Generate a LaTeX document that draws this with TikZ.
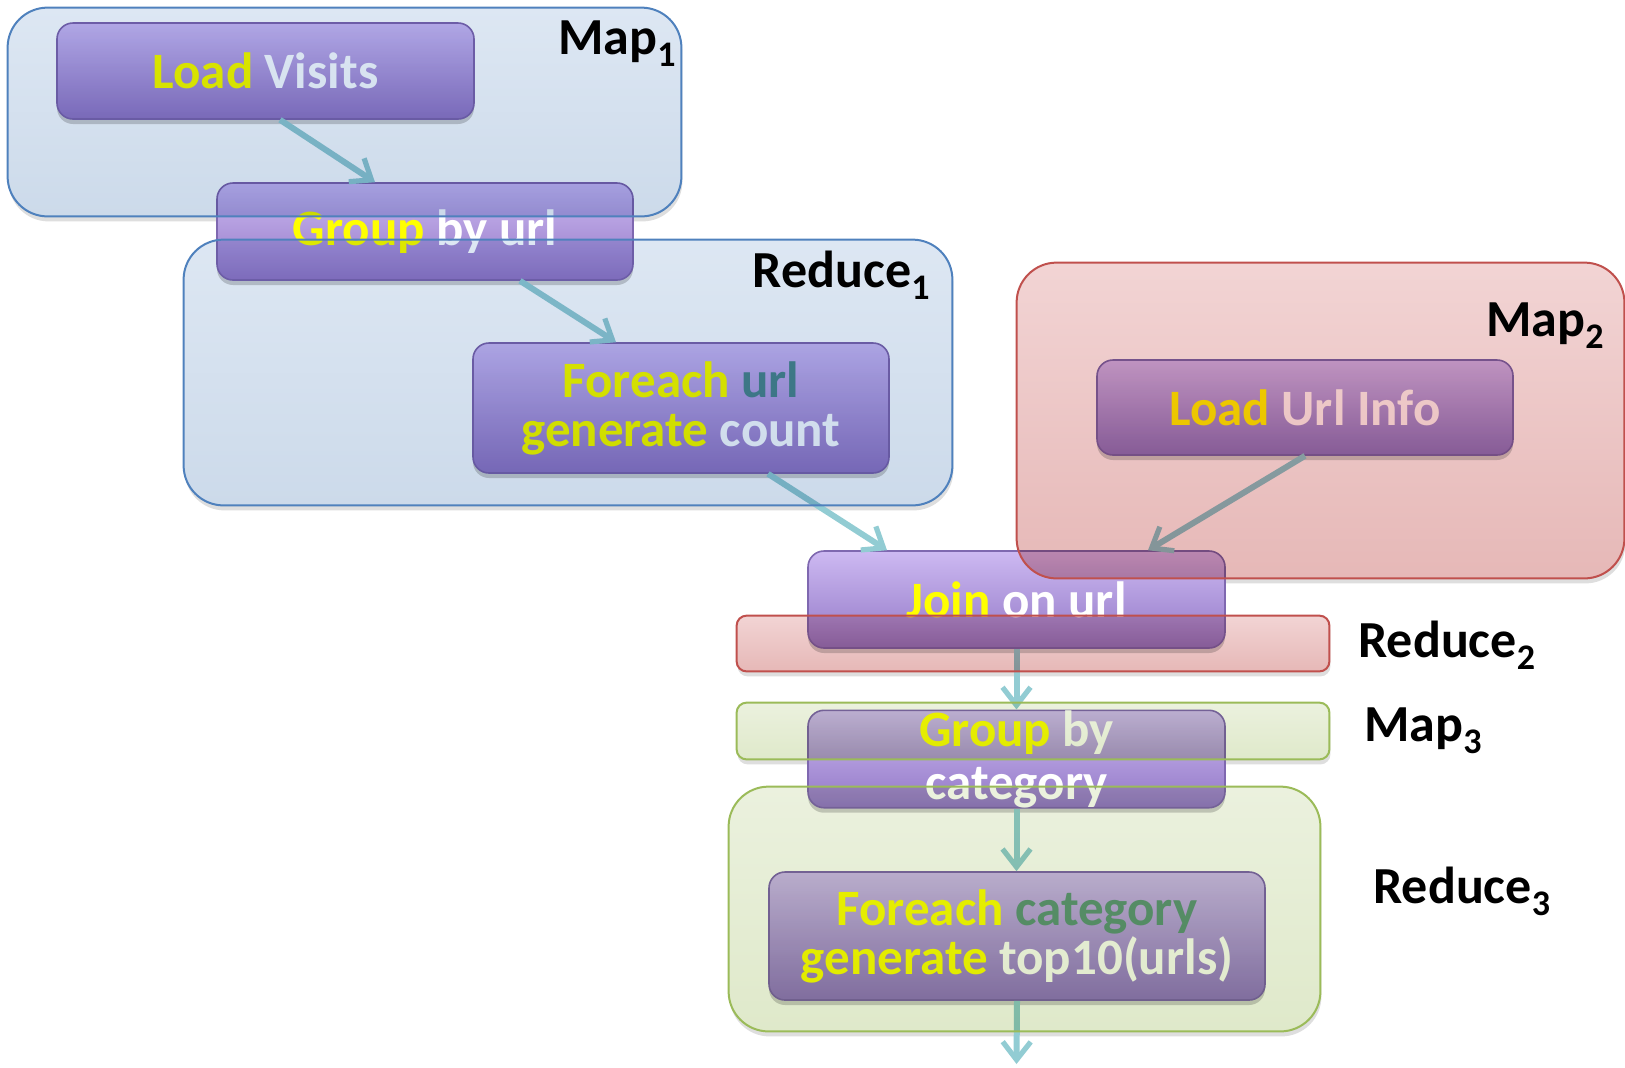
\documentclass[tikz,border=0pt]{standalone}
\usepackage{fontspec}
\setmainfont{Carlito}
\usetikzlibrary{arrows.meta,calc,shadows}

\definecolor{nodeTop}{HTML}{CDB9F2}
\definecolor{nodeBot}{HTML}{9278C6}
\definecolor{nodeLine}{HTML}{7F68B0}
\definecolor{blueTop}{HTML}{DDE7F3}
\definecolor{blueBot}{HTML}{CCDAEA}
\definecolor{blueLine}{HTML}{4F81BD}
\definecolor{pinkTop}{HTML}{F2D4D4}
\definecolor{pinkBot}{HTML}{E6B8B7}
\definecolor{pinkLine}{HTML}{C0504D}
\definecolor{greenTop}{HTML}{EBF1DE}
\definecolor{greenBot}{HTML}{DFE9CA}
\definecolor{greenLine}{HTML}{9BBB59}
\definecolor{flow}{HTML}{92CCD3}
\definecolor{kw}{HTML}{FFFF00}
\definecolor{urlc}{HTML}{4A8890}
\definecolor{catc}{HTML}{5F977A}

\newcommand\stagesub[1]{\raisebox{-6pt}{\fontsize{18}{18}\selectfont #1}}

\tikzset{
  proc/.style={rectangle, rounded corners=8pt, draw=nodeLine, line width=0.8pt,
    top color=nodeTop, bottom color=nodeBot, text=white, align=center,
    inner sep=0pt, font=\bfseries\fontsize{25.5}{24.5}\selectfont,
    drop shadow={shadow xshift=0pt, shadow yshift=-2.5pt, opacity=0.3, fill=black!60}},
  stage/.style={rectangle, inner sep=0pt},
  flowarrow/.style={draw=flow, line width=3pt,
    -{Straight Barb[length=9pt, width=14pt, line width=2.6pt]}},
  stagelabel/.style={inner sep=0pt, text=black, font=\bfseries\fontsize{26}{30}\selectfont},
}

\begin{document}
\begin{tikzpicture}[x=0.5pt, y=-0.5pt]
\useasboundingbox (0,0) rectangle (1625,1067);

% stage regions (placed first, painted later)
\node[stage, minimum width=336.5pt, minimum height=104pt]  (m1) at (344.5,112) {};
\node[stage, minimum width=384pt,   minimum height=132.5pt] (r1) at (568,372.5) {};
\node[stage, minimum width=303.5pt, minimum height=157.5pt] (m2) at (1320.5,420.5) {};
\node[stage, minimum width=296pt,   minimum height=27.5pt]  (r2) at (1033,643.5) {};
\node[stage, minimum width=296pt,   minimum height=28pt]    (m3) at (1033,731) {};
\node[stage, minimum width=295.5pt, minimum height=122pt]   (r3) at (1024.5,909) {};

% soft shadows under the stage regions, showing only past their edges
\foreach \s/\r in {m1/20pt, r1/20pt, m2/20pt, r2/5pt, m3/5pt, r3/20pt} {
  \fill[black!13, rounded corners=\r] ($(\s.south west)+(1,5)$) rectangle ($(\s.north east)+(1,5)$);
  \fill[white, rounded corners=\r] (\s.south west) rectangle (\s.north east);
}

% processing steps
\node[proc, minimum width=208.5pt, minimum height=48pt] (lv) at (265.5,71)
  {{\color{kw}Load} Visits};
\node[proc, minimum width=208pt, minimum height=48.5pt] (gu) at (425,231.5)
  {{\color{kw}Group} by url};
\node[proc, minimum width=208pt, minimum height=65pt] (fu) at (681,408)
  {{\color{kw}Foreach} {\color{urlc}url}\\{\color{kw}generate} count};
\node[proc, minimum width=208pt, minimum height=47.5pt] (lu) at (1305,407.5)
  {{\color{kw}Load} Url Info};
\node[proc, minimum width=208.5pt, minimum height=48.5pt] (jn) at (1016.5,599.5)
  {{\color{kw}Join} on url};
\node[proc, minimum width=208.5pt, minimum height=48pt,
      font=\bfseries\fontsize{25.5}{26.5}\selectfont] (gc) at (1016.5,759)
  {{\color{kw}Group} by\\category};
\node[proc, minimum width=248pt, minimum height=64pt] (fc) at (1017,936)
  {{\color{kw}Foreach} {\color{catc}category}\\{\color{kw}generate} top10(urls)};
\coordinate (out) at (1016.5,1064);

% data flow
\draw[flowarrow] ($(lv.south)+(14.5,0)$) -- ($(gu.north)+(-50,0)$);
\draw[flowarrow] ($(gu.south)+(95,0)$) -- ($(fu.north)+(-65,0)$);
\draw[flowarrow] ($(fu.south)+(87,0)$) -- ($(jn.north)+(-129.5,0)$);
\draw[flowarrow] (lu.south) -- ($(jn.north)+(131.5,0)$);
\draw[flowarrow] (jn.south) -- (gc.north);
\draw[flowarrow] (gc.south) -- (gc.south |- fc.north);
\draw[flowarrow] (fc.south) -- (out);

% tinted stage regions over the steps
\begin{scope}[blend mode=multiply]
  \path[top color=blueTop, bottom color=blueBot, rounded corners=20pt] (m1.south west) rectangle (m1.north east);
  \path[top color=blueTop, bottom color=blueBot, rounded corners=20pt] (r1.south west) rectangle (r1.north east);
  \path[top color=pinkTop, bottom color=pinkBot, rounded corners=20pt] (m2.south west) rectangle (m2.north east);
  \path[top color=pinkTop, bottom color=pinkBot, rounded corners=5pt] (r2.south west) rectangle (r2.north east);
  \path[top color=greenTop, bottom color=greenBot, rounded corners=5pt] (m3.south west) rectangle (m3.north east);
  \path[top color=greenTop, bottom color=greenBot, rounded corners=20pt] (r3.south west) rectangle (r3.north east);
\end{scope}
\draw[blueLine, line width=1pt, rounded corners=20pt] (m1.south west) rectangle (m1.north east);
\draw[blueLine, line width=1pt, rounded corners=20pt] (r1.south west) rectangle (r1.north east);
\draw[pinkLine, line width=1pt, rounded corners=20pt] (m2.south west) rectangle (m2.north east);
\draw[pinkLine, line width=1pt, rounded corners=5pt] (r2.south west) rectangle (r2.north east);
\draw[greenLine, line width=1pt, rounded corners=5pt] (m3.south west) rectangle (m3.north east);
\draw[greenLine, line width=1pt, rounded corners=20pt] (r3.south west) rectangle (r3.north east);

% stage names
\node[stagelabel, anchor=base east] (lm1) at (676,54) {Map\stagesub{1}};
\node[stagelabel, anchor=base east] (lr1) at (930,287) {Reduce\stagesub{1}};
\node[stagelabel, anchor=base east] (lm2) at (1604,336) {Map\stagesub{2}};
\node[stagelabel, anchor=base west] (lr2) at (1358,657) {Reduce\stagesub{2}};
\node[stagelabel, anchor=base west] (lm3) at (1364,741) {Map\stagesub{3}};
\node[stagelabel, anchor=base west] (lr3) at (1373,903) {Reduce\stagesub{3}};
\end{tikzpicture}
\end{document}
